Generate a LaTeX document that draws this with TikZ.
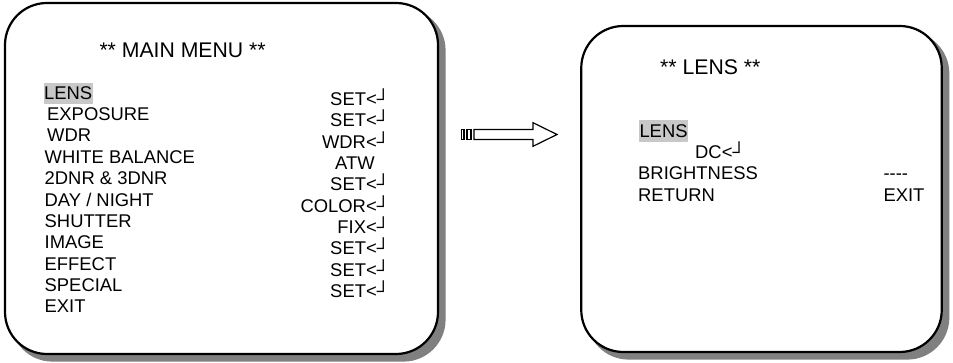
\documentclass[tikz,border=0pt]{standalone}
\usepackage{fontspec}
\setmainfont{Liberation Sans}
\usetikzlibrary{backgrounds}
\definecolor{hlgray}{RGB}{200,200,200}
\definecolor{shadowgray}{RGB}{128,128,128}
\newcommand{\ret}{<┘}

\begin{document}
\begin{tikzpicture}[x=1pt,y=-1pt,
	screen/.style={draw,line width=2.2pt,rounded corners=42pt,fill=white,inner sep=0pt},
	screenshadow/.style={fill=shadowgray,rounded corners=42pt},
	title/.style={anchor=base west,inner sep=0pt,font=\fontsize{21.2}{25}\selectfont},
	entry/.style={anchor=base west,inner sep=0pt,font=\fontsize{18.4}{22}\selectfont},
	hilite/.style={entry,fill=hlgray,inner xsep=0.5pt,text height=16pt,text depth=4.5pt}]
	\useasboundingbox (0,0) rectangle (953,363);
	% main menu screen
	\node[screen,minimum width=433pt,minimum height=351pt] (main) at (221.5,178.5) {};
	\node[title] (maintitle) at (99.3,57.3) {** MAIN MENU **};
	\node[hilite] (mlens) at (43.5,99.3) {LENS};
	\foreach \txt/\xx [count=\i from 0] in {EXPOSURE/47, WDR/47, WHITE BALANCE/44.5, 2DNR \& 3DNR/44.5, {DAY / NIGHT}/44.5, SHUTTER/44.5, IMAGE/44.5, EFFECT/44.5, SPECIAL/44.5, EXIT/44.5}
		\node[entry] (mitem\i) at (\xx,120.65+21.35*\i) {\txt};
	\foreach \val/\xx/\anc [count=\i from 0] in {SET\ret/390/east, SET\ret/390/east, WDR\ret/390/east, ATW/335/west, SET\ret/390/east, COLOR\ret/390/east, FIX\ret/390/east, SET\ret/390/east, SET\ret/390/east, SET\ret/390/east}
		\node[entry,anchor=base \anc] (mval\i) at (\xx,105.7+21.3*\i) {\val};
	% arrow
	\draw[line width=1.2pt,fill=white] (474,129.5) -- (533,129.5) -- (533,122.7) -- (557,134.5) -- (533,146.3) -- (533,139.5) -- (474,139.5) -- cycle;
	\draw[line width=1.2pt] (461.5,129.5) rectangle (464,139.5) (467,129.5) rectangle (471,139.5);
	% lens screen
	\node[screen,minimum width=360.5pt,minimum height=326pt] (lens) at (761.5,189) {};
	\node[title] (lenstitle) at (660,74.3) {** LENS **};
	\node[hilite,text height=17.3pt,text depth=4.4pt] (llens) at (638.8,137.3) {LENS};
	\node[entry] (ldc) at (695,158.3) {DC\ret};
	\node[entry] (lbright) at (638,180) {BRIGHTNESS};
	\node[entry] (lreturn) at (638,201.7) {RETURN};
	\node[entry] (lbrightval) at (883.3,180) {-{}-{}-{}-};
	\node[entry] (lreturnval) at (883.3,201.7) {EXIT};
	% shadows
	\begin{scope}[on background layer]
		\foreach \s in {main,lens}
			\fill[screenshadow] ([shift={(6.5,6.5)}]\s.north west) rectangle ([shift={(6.5,6.5)}]\s.south east);
	\end{scope}
\end{tikzpicture}
\end{document}
